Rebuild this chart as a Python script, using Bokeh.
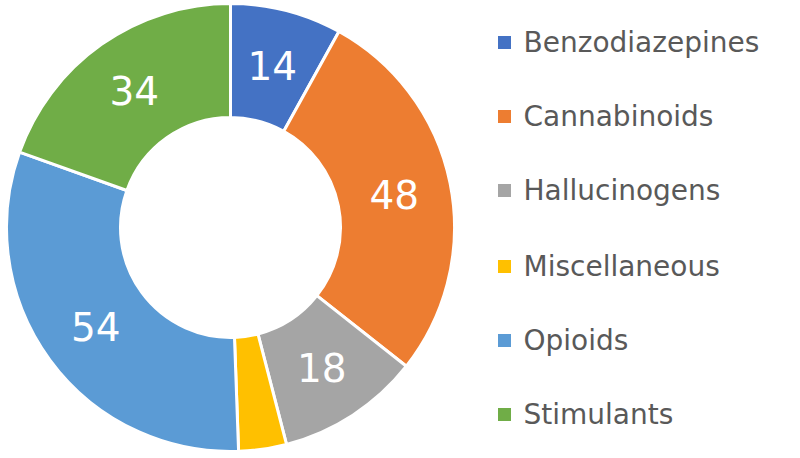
import numpy as np
from bokeh.plotting import figure
from bokeh.models import ColumnDataSource, Range1d
from bokeh.core.properties import value
from bokeh.embed import file_html
from bokeh.resources import INLINE

categories = ["Benzodiazepines", "Cannabinoids", "Hallucinogens", "Miscellaneous", "Opioids", "Stimulants"]
values = [14, 48, 18, 6, 54, 34]
colors = ["#4472C4", "#ED7D31", "#A5A5A5", "#FFC000", "#5B9BD5", "#70AD47"]
shown_labels = ["14", "48", "18", "", "54", "34"]

W, H = 800, 458
cx, cy = 230, 231
r_out, r_in = 224, 110

vals = np.array(values, dtype=float)
total = vals.sum()
cum = np.cumsum(vals)
before = cum - vals
start = np.pi / 2 - 2 * np.pi * before / total
end = np.pi / 2 - 2 * np.pi * cum / total
mid = (start + end) / 2
r_lab = (r_out + r_in) / 2

src = ColumnDataSource(dict(cat=categories, val=values, start=start, end=end, color=colors,
                            lx=cx + r_lab * np.cos(mid), ly=cy + r_lab * np.sin(mid), lab=shown_labels))

p = figure(width=W, height=H, output_backend="svg", toolbar_location=None,
           x_range=Range1d(0, W), y_range=Range1d(0, H), min_border=0)
p.axis.visible = False
p.grid.visible = False
p.outline_line_color = None
p.background_fill_color = "white"

p.annular_wedge(x=cx, y=cy, inner_radius=r_in, outer_radius=r_out, start_angle="start", end_angle="end",
                direction="clock", fill_color="color", line_color="white", line_width=3, source=src)
p.text(x="lx", y="ly", text="lab", source=src, text_color="white", text_align="center",
       text_baseline="middle", text_font=value("DejaVu Sans"), text_font_size="39px",
       text_font_style="normal")

# legend
leg_y = [416, 342, 268, 192, 118, 44]
lsrc = ColumnDataSource(dict(y=leg_y, cat=categories, color=colors))
p.rect(x=504, y="y", width=13, height=13, fill_color="color", line_color=None, source=lsrc)
p.text(x=523, y="y", text="cat", source=lsrc, text_color="#595959", text_align="left",
       text_baseline="middle", text_font=value("DejaVu Sans"), text_font_size="28px")

open("out.html", "w").write(file_html(p, INLINE))
